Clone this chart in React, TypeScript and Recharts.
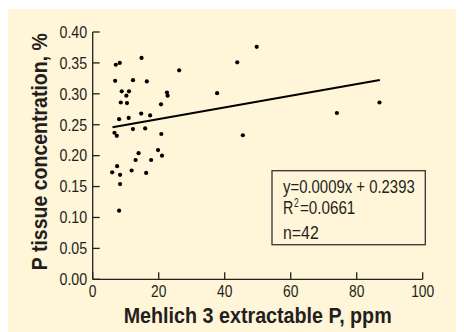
import { ScatterChart, Scatter, XAxis, YAxis, ReferenceLine, Label } from "recharts";

// Mehlich 3 extractable P (ppm) and P tissue concentration (%), 42 samples
const mehlichP = [
  7.0, 8.2, 14.8, 26.2, 6.8, 12.2, 16.4, 8.8, 11.0, 10.2, 22.5, 22.7, 8.5, 10.4,
  20.7, 8.0, 10.9, 14.7, 17.4, 6.6, 7.3, 12.2, 15.9, 20.8, 19.8, 21.0, 13.9, 13.0,
  17.7, 7.4, 5.9, 8.3, 11.8, 16.2, 8.3, 8.0, 49.7, 43.8, 45.5, 74.0, 86.9, 37.7,
];
const tissueP = [
  0.347, 0.35, 0.358, 0.338, 0.321, 0.322, 0.32, 0.304, 0.304, 0.297, 0.302, 0.297,
  0.286, 0.285, 0.283, 0.259, 0.261, 0.268, 0.265, 0.237, 0.232, 0.243, 0.244, 0.235,
  0.209, 0.2, 0.204, 0.193, 0.193, 0.183, 0.173, 0.169, 0.176, 0.172, 0.154, 0.111,
  0.376, 0.351, 0.233, 0.269, 0.286, 0.301,
];
const trend = [
  { x: 6, y: 0.246 },
  { x: 87, y: 0.3225 },
];
const xTicks = [0, 20, 40, 60, 80, 100];
const yTicks = [0, 0.05, 0.1, 0.15, 0.2, 0.25, 0.3, 0.35, 0.4];
const statLines = ["y=0.0009x + 0.2393", "0.0661", "n=42"];

const points = mehlichP.map((x, i) => ({ x, y: tissueP[i] }));

// no condensed font installed: squeeze Liberation Sans with textLength
const FONT = '"Liberation Sans", Arial, sans-serif';
const INK = "#231f20";
const BG = "#fff5d8";
const DIGIT_W = 7.7;

function XTick({ x, y, payload }: any) {
  const s = String(payload.value);
  return (
    <text
      x={x}
      y={y}
      dy="0.71em"
      textAnchor="middle"
      fill={INK}
      fontSize={17}
      fontFamily={FONT}
      textLength={s.length * DIGIT_W}
      lengthAdjust="spacingAndGlyphs"
    >
      {s}
    </text>
  );
}

function YTick({ x, y, payload }: any) {
  return (
    <text
      x={x}
      y={y}
      dy="0.34em"
      textAnchor="end"
      fill={INK}
      fontSize={17}
      fontFamily={FONT}
      textLength={27.7}
      lengthAdjust="spacingAndGlyphs"
    >
      {payload.value.toFixed(2)}
    </text>
  );
}

export default function App() {
  return (
    <div style={{ position: "relative", width: 457, height: 323, marginLeft: -1, marginTop: 1, background: BG }}>
      <ScatterChart width={457} height={323} margin={{ top: 23, right: 41.3, left: 0, bottom: 0 }}>
        <XAxis
          type="number"
          dataKey="x"
          domain={[0, 100]}
          ticks={xTicks}
          height={52.7}
          tickSize={-7}
          tickMargin={12.5}
          tick={<XTick />}
          stroke={INK}
          axisLine={{ stroke: INK, strokeWidth: 1.3 }}
          tickLine={{ stroke: INK, strokeWidth: 1.3 }}
        >
          <Label
            content={({ viewBox }: any) => (
              <text
                x={viewBox.x + viewBox.width / 2}
                y={viewBox.y + 43.4}
                textAnchor="middle"
                fill={INK}
                fontSize={22}
                fontWeight="bold"
                fontFamily={FONT}
                textLength={268}
                lengthAdjust="spacingAndGlyphs"
              >
                Mehlich 3 extractable P, ppm
              </text>
            )}
          />
        </XAxis>
        <YAxis
          type="number"
          dataKey="y"
          domain={[0, 0.4]}
          ticks={yTicks}
          width={85.7}
          tickSize={-7}
          tickMargin={12.5}
          tick={<YTick />}
          stroke={INK}
          axisLine={{ stroke: INK, strokeWidth: 1.3 }}
          tickLine={{ stroke: INK, strokeWidth: 1.3 }}
        >
          <Label
            content={({ viewBox }: any) => {
              const cx = 40;
              const cy = viewBox.y + viewBox.height / 2 - 4;
              return (
                <text
                  x={cx}
                  y={cy}
                  transform={`rotate(-90 ${cx} ${cy})`}
                  textAnchor="middle"
                  fill={INK}
                  fontSize={22}
                  fontWeight="bold"
                  fontFamily={FONT}
                  textLength={237}
                  lengthAdjust="spacingAndGlyphs"
                >
                  P tissue concentration, %
                </text>
              );
            }}
          />
        </YAxis>
        <ReferenceLine segment={trend} stroke="#000" strokeWidth={2} ifOverflow="visible" />
        <Scatter
          data={points}
          isAnimationActive={false}
          shape={(p: any) => <circle cx={p.cx} cy={p.cy} r={2.1} fill="#000" />}
        />
      </ScatterChart>
      <svg width={457} height={323} style={{ position: "absolute", left: 0, top: 0, pointerEvents: "none" }}>
        <rect x={265} y={161.7} width={153.3} height={74} fill="none" stroke="#333" strokeWidth={1.3} />
        <text x={276} y={183.7} fill={INK} fontSize={18} fontFamily={FONT} textLength={131.7} lengthAdjust="spacingAndGlyphs">
          {statLines[0]}
        </text>
        <text x={276} y={204.7} fill={INK} fontSize={18} fontFamily={FONT}>
          <tspan x={276} y={204.7} textLength={10.3} lengthAdjust="spacingAndGlyphs">R</tspan>
          <tspan x={287} y={197.5} fontSize={12} textLength={4.7} lengthAdjust="spacingAndGlyphs">2</tspan>
          <tspan x={293} y={204.7} textLength={55.3} lengthAdjust="spacingAndGlyphs">={statLines[1]}</tspan>
        </text>
        <text x={276} y={229.7} fill={INK} fontSize={18} fontFamily={FONT} textLength={35.7} lengthAdjust="spacingAndGlyphs">
          {statLines[2]}
        </text>
      </svg>
    </div>
  );
}
